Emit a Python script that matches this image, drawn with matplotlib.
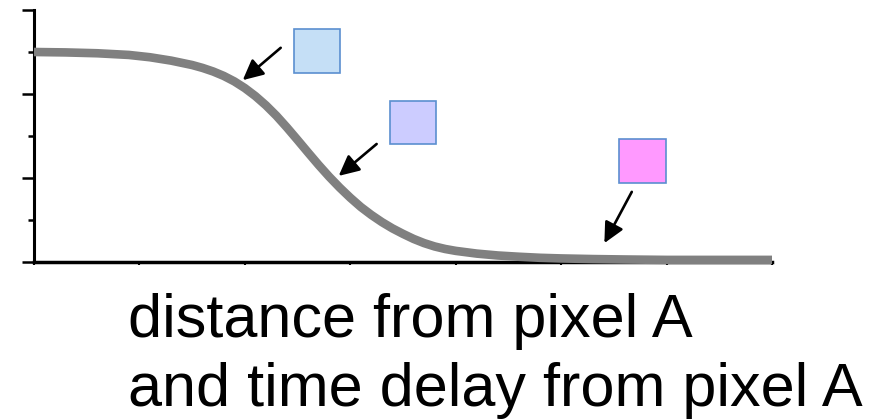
import matplotlib
matplotlib.use("Agg")
import matplotlib.pyplot as plt
from matplotlib.patches import Rectangle

# Curve (x in tick units 0..7, y in tick units 0..6)
curve_x = [0.0, 0.3, 0.6, 0.9, 1.1, 1.3, 1.5, 1.6, 1.7, 1.8, 1.9, 2.0, 2.1,
           2.2, 2.3, 2.4, 2.5, 2.6, 2.7, 2.8, 2.9, 3.0, 3.1, 3.2, 3.3, 3.4,
           3.5, 3.6, 3.7, 3.8, 3.9, 4.0, 4.2, 4.4, 4.6, 4.8, 5.0, 5.3, 5.6,
           6.0, 7.0]
curve_y = [5.00, 4.99, 4.97, 4.93, 4.875, 4.795, 4.69, 4.62, 4.535, 4.43,
           4.30, 4.14, 3.95, 3.73, 3.48, 3.20, 2.905, 2.605, 2.31, 2.03, 1.77,
           1.53, 1.31, 1.12, 0.95, 0.80, 0.67, 0.55, 0.45, 0.37, 0.31, 0.265,
           0.20, 0.155, 0.125, 0.10, 0.085, 0.07, 0.06, 0.05, 0.05]

x_ticks = [0, 1, 2, 3, 4, 5, 6, 7]
y_major = [0, 2, 4, 6]
y_minor = [1, 3, 5]

# Coloured squares: (x0, y0, x1, y1) in data units, fill colour
squares = [
    (2.47, 4.50, 2.90, 5.55, "#C5DFF6"),
    (3.38, 2.81, 3.81, 3.83, "#CCCCFF"),
    (5.55, 1.88, 5.99, 2.93, "#FF99FF"),
]
# Arrows: (tail_x, tail_y, tip_x, tip_y)
arrows = [
    (2.34, 5.10, 1.98, 4.33),
    (3.25, 2.81, 2.89, 2.05),
    (5.67, 1.67, 5.41, 0.45),
]
label_lines = ["distance from pixel A", "and time delay from pixel A"]

fig = plt.figure(figsize=(8.71, 4.20), dpi=100)
W, H = 871, 420
ax = fig.add_axes([34 / W, (H - 262) / H, 738 / W, 252 / H])

ax.plot(curve_x, curve_y, color="#808080", lw=6.2, solid_capstyle="butt",
        solid_joinstyle="round", clip_on=False, zorder=3)

ax.set_xlim(0, 7)
ax.set_ylim(0, 6)
for s in ("top", "right"):
    ax.spines[s].set_visible(False)
ax.spines["left"].set_linewidth(2.2)
ax.spines["bottom"].set_linewidth(2.5)
ax.spines["bottom"].set_zorder(2)

ax.set_xticks(x_ticks)
ax.set_yticks(y_major)
ax.set_yticks(y_minor, minor=True)
ax.set_xticklabels([])
ax.set_yticklabels([])
ax.tick_params(axis="x", direction="out", length=2.2, width=1.5, color="black")
ax.tick_params(axis="y", which="major", direction="out", length=8.6, width=1.8)
ax.tick_params(axis="y", which="minor", direction="out", length=4.3, width=1.8)

for x0, y0, x1, y1, fc in squares:
    ax.add_patch(Rectangle((x0, y0), x1 - x0, y1 - y0, facecolor=fc,
                           edgecolor="#5B8FD0", lw=1.2, clip_on=False, zorder=4))

for tx, ty, hx, hy in arrows:
    ax.annotate("", xy=(hx, hy), xytext=(tx, ty),
                arrowprops=dict(arrowstyle="-|>,head_length=0.65,head_width=0.32",
                                mutation_scale=19, color="black", lw=1.9,
                                shrinkA=0, shrinkB=0),
                annotation_clip=False, zorder=5)

fig.text(128 / W, 1 - 337 / H, label_lines[0], fontsize=44,
         family="Liberation Sans", va="baseline", ha="left")
fig.text(128 / W, 1 - 406 / H, label_lines[1], fontsize=44,
         family="Liberation Sans", va="baseline", ha="left")

fig.savefig("out.png", dpi=100)
